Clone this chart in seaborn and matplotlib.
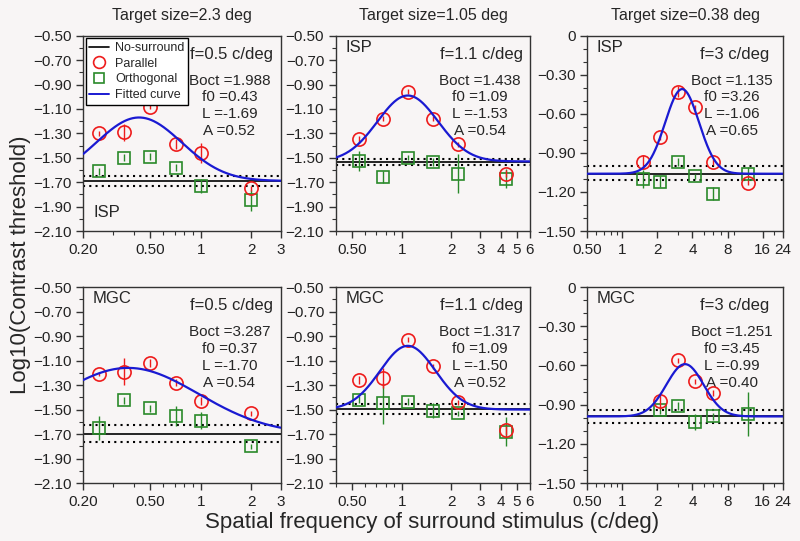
import numpy as np
import seaborn as sns
import matplotlib
matplotlib.use("Agg")
import matplotlib.pyplot as plt
from matplotlib.ticker import FixedLocator, FuncFormatter, LogLocator, NullFormatter
from matplotlib.lines import Line2D

# surround spatial frequencies (c/deg) per target frequency
x_f05 = [0.25, 0.35, 0.5, 0.71, 1.0, 2.0]
x_f11 = [0.55, 0.775, 1.1, 1.55, 2.2, 4.3]
x_f3_isp = [1.5, 2.1, 3.0, 4.2, 6.0, 12.0]
x_f3_mgc = [2.1, 3.0, 4.2, 6.0, 12.0]

# ISP row
isp_f05_par = [-1.30, -1.29, -1.08, -1.39, -1.46, -1.75]
isp_f05_par_err = [0.02, 0.07, 0.02, 0.04, 0.08, 0.02]
isp_f05_ort = [-1.61, -1.50, -1.49, -1.58, -1.73, -1.85]
isp_f05_ort_err = [0.03, 0.03, 0.03, 0.03, 0.055, 0.09]

isp_f11_par = [-1.35, -1.18, -0.96, -1.18, -1.39, -1.63]
isp_f11_par_err = [0.03, 0.02, 0.02, 0.02, 0.02, 0.03]
isp_f11_ort = [-1.525, -1.66, -1.50, -1.535, -1.63, -1.67]
isp_f11_ort_err = [0.08, 0.05, 0.02, 0.03, 0.16, 0.08]

isp_f3_par = [-0.97, -0.78, -0.43, -0.55, -0.97, -1.13]
isp_f3_par_err = [0.05, 0.02, 0.04, 0.02, 0.02, 0.02]
isp_f3_ort = [-1.10, -1.12, -0.97, -1.08, -1.215, -1.06]
isp_f3_ort_err = [0.07, 0.04, 0.03, 0.02, 0.05, 0.05]

# MGC row
mgc_f05_par = [-1.21, -1.19, -1.12, -1.28, -1.43, -1.53]
mgc_f05_par_err = [0.02, 0.11, 0.03, 0.03, 0.03, 0.02]
mgc_f05_ort = [-1.65, -1.425, -1.49, -1.55, -1.59, -1.80]
mgc_f05_ort_err = [0.10, 0.03, 0.03, 0.08, 0.07, 0.02]

mgc_f11_par = [-1.26, -1.24, -0.93, -1.145, -1.44, -1.67]
mgc_f11_par_err = [0.03, 0.08, 0.02, 0.02, 0.02, 0.04]
mgc_f11_ort = [-1.42, -1.45, -1.435, -1.51, -1.53, -1.68]
mgc_f11_ort_err = [0.03, 0.17, 0.03, 0.06, 0.02, 0.12]

mgc_f3_par = [-0.87, -0.56, -0.72, -0.81, np.nan]
mgc_f3_par_err = [0.06, 0.02, 0.02, 0.02, np.nan]
mgc_f3_ort = [-0.94, -0.91, -1.03, -0.99, -0.97]
mgc_f3_ort_err = [0.03, 0.03, 0.06, 0.03, 0.17]

# no-surround threshold and its +/- band
nosur = [-1.69, -1.535, -1.06, -1.70, -1.495, -0.99]
nosur_lo = [-1.73, -1.563, -1.112, -1.765, -1.534, -1.04]
nosur_hi = [-1.65, -1.506, -1.004, -1.629, -1.455, -0.943]

# fitted parameters shown in each panel
boct = [1.988, 1.438, 1.135, 3.287, 1.317, 1.251]
f0 = [0.43, 1.09, 3.26, 0.37, 1.09, 3.45]
L = [-1.69, -1.53, -1.06, -1.70, -1.50, -0.99]
A = [0.52, 0.54, 0.65, 0.54, 0.52, 0.40]

titles = ["Target size=2.3 deg", "Target size=1.05 deg", "Target size=0.38 deg"]
freq_labels = ["f=0.5 c/deg", "f=1.1 c/deg", "f=3 c/deg"]
xlims = [(0.2, 3), (0.4, 6), (0.5, 24)]
xticks = [[0.2, 0.5, 1, 2, 3], [0.5, 1, 2, 3, 4, 5, 6], [0.5, 1, 2, 4, 8, 16, 24]]
xticklabels = [["0.20", "0.50", "1", "2", "3"],
               ["0.50", "1", "2", "3", "4", "5", "6"],
               ["0.50", "1", "2", "4", "8", "16", "24"]]

BG = "#f8f5f5"
RED = "#ee1c1c"
GREEN = "#2a8a2a"
BLUE = "#1a1ad2"

sns.set_theme(style="ticks")
plt.rcParams["font.family"] = ["Liberation Sans", "DejaVu Sans"]
plt.rcParams["axes.edgecolor"] = "#333333"
plt.rcParams["xtick.color"] = "#333333"
plt.rcParams["ytick.color"] = "#333333"
plt.rcParams["xtick.labelcolor"] = "#222222"
plt.rcParams["ytick.labelcolor"] = "#222222"

fig = plt.figure(figsize=(8, 5.41), dpi=100, facecolor=BG)

lefts = [0.104, 0.42, 0.734]
widths = [0.247, 0.2425, 0.245]
bottoms = [0.573, 0.107]
heights = [0.361, 0.3625]

xs = [x_f05, x_f11, x_f3_isp, x_f05, x_f11, x_f3_mgc]
pars = [isp_f05_par, isp_f11_par, isp_f3_par, mgc_f05_par, mgc_f11_par, mgc_f3_par]
par_errs = [isp_f05_par_err, isp_f11_par_err, isp_f3_par_err,
            mgc_f05_par_err, mgc_f11_par_err, mgc_f3_par_err]
orts = [isp_f05_ort, isp_f11_ort, isp_f3_ort, mgc_f05_ort, mgc_f11_ort, mgc_f3_ort]
ort_errs = [isp_f05_ort_err, isp_f11_ort_err, isp_f3_ort_err,
            mgc_f05_ort_err, mgc_f11_ort_err, mgc_f3_ort_err]


def yfmt(v, pos):
    if abs(v) < 1e-9:
        return "0"
    return f"{v:.2f}".replace("-", "\u2212")


for i in range(6):
    row, col = divmod(i, 3)
    ax = fig.add_axes([lefts[col], bottoms[row], widths[col], heights[row]])
    ax.set_facecolor(BG)
    ax.set_xscale("log")
    lo, hi = xlims[col]

    # no-surround baseline and band
    ax.axhline(nosur[i], color="black", lw=1.2, zorder=2)
    for yb in (nosur_lo[i], nosur_hi[i]):
        ax.axhline(yb, color="black", lw=1.5, ls=(0, (1, 2)), zorder=2)

    ax.errorbar(xs[i], orts[i], yerr=ort_errs[i], fmt="s", ms=8.5, mfc="none",
                mec=GREEN, mew=1.2, ecolor=GREEN, elinewidth=1, capsize=0, zorder=3)
    ax.errorbar(xs[i], pars[i], yerr=par_errs[i], fmt="o", ms=9.5, mfc="none",
                mec=RED, mew=1.2, ecolor=RED, elinewidth=1, capsize=0, zorder=4)

    # fitted log-Gaussian from the displayed parameters
    fx = np.geomspace(lo, hi, 300)
    fy = L[i] + A[i] * np.exp(-np.log(2) * (2 * np.log2(fx / f0[i]) / boct[i]) ** 2)
    sns.lineplot(x=fx, y=fy, color=BLUE, lw=1.6, ax=ax, zorder=5)

    ax.set_xlim(lo, hi)
    ax.xaxis.set_major_locator(FixedLocator(xticks[col]))
    ax.set_xticklabels(xticklabels[col])
    ax.xaxis.set_minor_locator(LogLocator(base=10, subs=np.arange(2, 10)))
    ax.xaxis.set_minor_formatter(NullFormatter())

    if col < 2:
        ax.set_ylim(-2.1, -0.5)
        ax.set_yticks(np.arange(-2.1, -0.49, 0.2))
        ax.set_yticks(np.arange(-2.0, -0.55, 0.2), minor=True)
    else:
        ax.set_ylim(-1.5, 0)
        ax.set_yticks(np.arange(-1.5, 0.01, 0.3))
        ax.set_yticks([v for v in np.arange(-1.4, -0.05, 0.1)
                       if abs(round(v / 0.3) * 0.3 - v) > 0.01], minor=True)
    ax.yaxis.set_major_formatter(FuncFormatter(yfmt))

    ax.tick_params(which="major", direction="out", length=5, width=1, labelsize=11)
    ax.tick_params(which="minor", direction="out", length=3, width=0.8)
    for s in ax.spines.values():
        s.set_linewidth(1)
    ax.set_xlabel("")
    ax.set_ylabel("")

    ax.text(0.75, 0.905, freq_labels[col], transform=ax.transAxes,
            ha="center", va="center", fontsize=12)
    stats = [f"Boct ={boct[i]:.3f}", f"f0 ={f0[i]:.2f}",
             f"L ={L[i]:.2f}", f"A ={A[i]:.2f}"]
    for k, s in enumerate(stats):
        ax.text(0.74, 0.77 - 0.086 * k, s, transform=ax.transAxes,
                ha="center", va="center", fontsize=11)

    label = "ISP" if row == 0 else "MGC"
    if i == 0:
        ax.text(0.05, 0.095, label, transform=ax.transAxes,
                ha="left", va="center", fontsize=12)
        handles = [
            Line2D([], [], color="black", lw=1.2),
            Line2D([], [], ls="none", marker="o", ms=8.5, mfc="none", mec=RED, mew=1.2),
            Line2D([], [], ls="none", marker="s", ms=7.5, mfc="none", mec=GREEN, mew=1.2),
            Line2D([], [], color=BLUE, lw=1.4),
        ]
        leg = ax.legend(handles, ["No-surround", "Parallel", "Orthogonal", "Fitted curve"],
                        loc="upper left", fontsize=9, frameon=True, fancybox=False,
                        borderaxespad=0.2, handlelength=1.6, labelspacing=0.3,
                        borderpad=0.3, handletextpad=0.45)
        leg.get_frame().set_edgecolor("black")
        leg.get_frame().set_linewidth(1)
        leg.get_frame().set_facecolor("white")
        leg.get_frame().set_alpha(1)
    else:
        ax.text(0.05, 0.94, label, transform=ax.transAxes,
                ha="left", va="center", fontsize=12)

    if row == 0:
        ax.set_title(titles[col], fontsize=11.5, pad=11)

fig.text(0.026, 0.51, "Log10(Contrast threshold)", rotation=90,
         ha="center", va="center", fontsize=16)
fig.text(0.54, 0.034, "Spatial frequency of surround stimulus (c/deg)",
         ha="center", va="center", fontsize=16)

fig.savefig("out.png", dpi=100, facecolor=BG)
